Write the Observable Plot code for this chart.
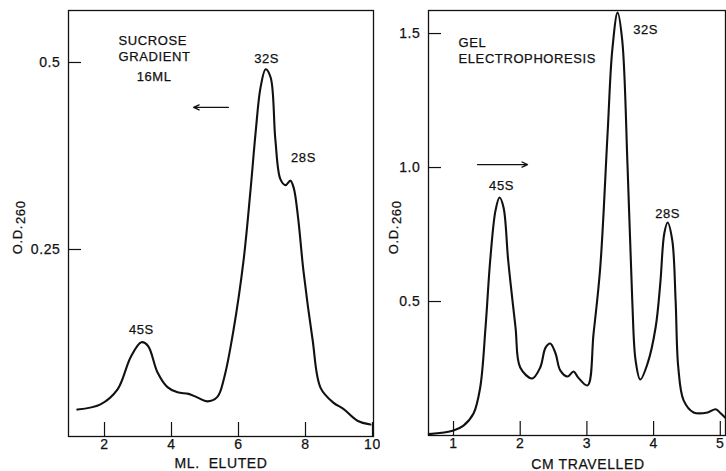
<!DOCTYPE html>
<html><head><meta charset="utf-8">
<script src="https://cdn.jsdelivr.net/npm/d3@7"></script>
<script src="https://cdn.jsdelivr.net/npm/@observablehq/plot@0.6"></script>
<style>
body{margin:0;background:#fff;}
#wrap{position:relative;width:726px;height:471px;overflow:hidden;background:#fff;}
#left,#right{position:absolute;top:0;}
#left{left:0;} #right{left:380px;}
</style></head><body><div id="wrap"><div id="left"></div><div id="right"></div></div>
<script>
// ---- Sucrose gradient panel (left) ----
const sucroseMl = [1.19,1.88,2.39,2.78,3.10,3.30,3.58,3.88,4.18,4.51,4.78,5.07,5.37,5.58,5.85,6.15,6.36,6.51,6.66,6.81,6.96,7.10,7.25,7.40,7.55,7.65,7.78,7.94,8.21,8.45,8.84,9.13,9.55,9.94];
const sucroseOd = [0.036,0.043,0.063,0.106,0.126,0.121,0.086,0.066,0.059,0.057,0.052,0.047,0.053,0.080,0.142,0.235,0.330,0.406,0.467,0.491,0.480,0.397,0.344,0.336,0.342,0.332,0.292,0.221,0.130,0.065,0.045,0.037,0.021,0.016];
const sucroseTicksX = [2,4,6,8,10];
const sucroseTicksY = [0.25,0.5];
const sucrosePeakLabels = ["45S","32S","28S"];
const sucrosePeakX = [3.10,6.84,7.94];
const sucrosePeakY = [0.143,0.505,0.373];
const sucroseNoteLines = ["SUCROSE","GRADIENT"];
const sucroseNoteX = [2.42,2.42];
const sucroseNoteY = [0.529,0.508];
const sucroseVolumeNote = ["16ML"];
const sucroseVolumeX = [3.48];
const sucroseVolumeY = [0.481];
const sucroseArrowFrom = 5.70, sucroseArrowTo = 4.66, sucroseArrowOd = 0.440;

// ---- Gel electrophoresis panel (right) ----
const gelCm = [0.63,1.0,1.15,1.30,1.40,1.48,1.55,1.63,1.69,1.75,1.82,1.93,2.00,2.18,2.30,2.38,2.45,2.53,2.60,2.71,2.80,2.87,3.01,3.10,3.20,3.31,3.38,3.46,3.53,3.61,3.68,3.73,3.80,3.91,4.03,4.10,4.16,4.21,4.28,4.33,4.37,4.45,4.60,4.81,4.93,5.00,5.07];
const gelOd = [0.005,0.019,0.037,0.082,0.179,0.403,0.653,0.840,0.888,0.851,0.653,0.403,0.254,0.213,0.254,0.328,0.343,0.306,0.243,0.220,0.239,0.216,0.187,0.381,0.627,1.127,1.437,1.578,1.474,1.000,0.504,0.280,0.209,0.269,0.403,0.567,0.754,0.795,0.728,0.504,0.254,0.131,0.086,0.086,0.098,0.084,0.067];
const gelTicksX = [1,2,3,4,5];
const gelTicksY = [0.5,1.0,1.5];
const gelPeakLabels = ["45S","32S","28S"];
const gelPeakX = [1.72,3.88,4.21];
const gelPeakY = [0.933,1.515,0.828];
const gelNoteLines = ["GEL","ELECTROPHORESIS"];
const gelNoteX = [1.075,1.075];
const gelNoteY = [1.466,1.407];
const gelArrowFrom = 1.36, gelArrowTo = 2.11, gelArrowOd = 1.011;

const font = '"Liberation Sans", Arial, sans-serif';
const ink = "#111";
const zip = (xs, ys, ts) => xs.map((x, i) => ({x, y: ys[i], t: ts ? ts[i] : null}));
const txt = {fill: ink, stroke: ink, strokeWidth: 0.25};

function panel(o) {
  const fw = o.width - o.ml - o.mr, fh = o.height - o.mt - o.mb;
  return Plot.plot({
    width: o.width, height: o.height,
    marginLeft: o.ml, marginRight: o.mr, marginTop: o.mt, marginBottom: o.mb,
    style: {fontFamily: font, fontSize: "14px", color: ink, background: "white", letterSpacing: "0.6px"},
    x: {domain: o.xDomain},
    y: {domain: o.yDomain},
    marks: [
      Plot.frame({stroke: ink, strokeWidth: 1.3}),
      Plot.ruleX(o.ticksX, {x: d => d, insetTop: fh - 14, stroke: ink, strokeWidth: 1.2}),
      Plot.ruleY(o.ticksY, {y: d => d, insetRight: fw - 13, stroke: ink, strokeWidth: 1.2}),
      Plot.axisX(o.ticksX, {tickSize: 0, tickPadding: 3, label: null, fontSize: 14, textStroke: ink, textStrokeWidth: 0.25}),
      Plot.axisY(o.ticksY, {tickSize: 0, tickPadding: 8, label: null, fontSize: 14, tickFormat: o.yFormat, textStroke: ink, textStrokeWidth: 0.25}),
      Plot.line(zip(o.xs, o.ys), {x: "x", y: "y", curve: "catmull-rom", stroke: ink, strokeWidth: 2.1}),
      Plot.text(zip(o.peakX, o.peakY, o.peakLabels), {x: "x", y: "y", text: "t", fontSize: 13, textAnchor: "middle", ...txt}),
      Plot.text(zip(o.noteX, o.noteY, o.noteLines), {x: "x", y: "y", text: "t", fontSize: 13, textAnchor: "start", ...txt}),
      ...(o.extraNote ? [Plot.text(zip(o.extraNote.x, o.extraNote.y, o.extraNote.t), {x: "x", y: "y", text: "t", fontSize: 13, textAnchor: "middle", ...txt})] : []),
      Plot.arrow([{x1: o.arrow[0], x2: o.arrow[1], y: o.arrow[2]}], {x1: "x1", x2: "x2", y1: "y", y2: "y", stroke: ink, strokeWidth: 1.3, headLength: 7, headAngle: 50, bend: 0}),
      Plot.text(["O.D."], {text: d => d, frameAnchor: "left", rotate: -90, textAnchor: "end", dx: o.odDx, dy: o.odDy, fontSize: 13, ...txt}),
      Plot.text(["260"], {text: d => d, frameAnchor: "left", rotate: -90, textAnchor: "start", dx: o.odDx + 3, dy: o.odDy - 1, fontSize: 13, ...txt}),
      Plot.text([o.xLabel], {text: d => d, frameAnchor: "bottom", dy: o.xLabelDy, dx: o.xLabelDx, fontSize: 14, lineAnchor: "middle", ...txt})
    ]
  });
}

document.getElementById("left").append(panel({
  width: 380, height: 471, ml: 68, mr: 7, mt: 10, mb: 35,
  xDomain: [0.925, 10.03], yDomain: [0, 0.5695],
  ticksX: sucroseTicksX, ticksY: sucroseTicksY, yFormat: d => String(d),
  xs: sucroseMl, ys: sucroseOd,
  peakX: sucrosePeakX, peakY: sucrosePeakY, peakLabels: sucrosePeakLabels,
  noteX: sucroseNoteX, noteY: sucroseNoteY, noteLines: sucroseNoteLines,
  extraNote: {x: sucroseVolumeX, y: sucroseVolumeY, t: sucroseVolumeNote},
  arrow: [sucroseArrowFrom, sucroseArrowTo, sucroseArrowOd],
  odDx: -51, odDy: 1.5,
  xLabel: "ML.  ELUTED", xLabelDy: 27, xLabelDx: 0
}));

document.getElementById("right").append(panel({
  width: 346, height: 471, ml: 48, mr: 1, mt: 10, mb: 36,
  xDomain: [0.625, 5.078], yDomain: [0, 1.586],
  ticksX: gelTicksX, ticksY: gelTicksY, yFormat: d => d.toFixed(1),
  xs: gelCm, ys: gelOd,
  peakX: gelPeakX, peakY: gelPeakY, peakLabels: gelPeakLabels,
  noteX: gelNoteX, noteY: gelNoteY, noteLines: gelNoteLines,
  extraNote: null,
  arrow: [gelArrowFrom, gelArrowTo, gelArrowOd],
  odDx: -35, odDy: 2,
  xLabel: "CM TRAVELLED", xLabelDy: 29, xLabelDx: 11
}));
</script></body></html>
